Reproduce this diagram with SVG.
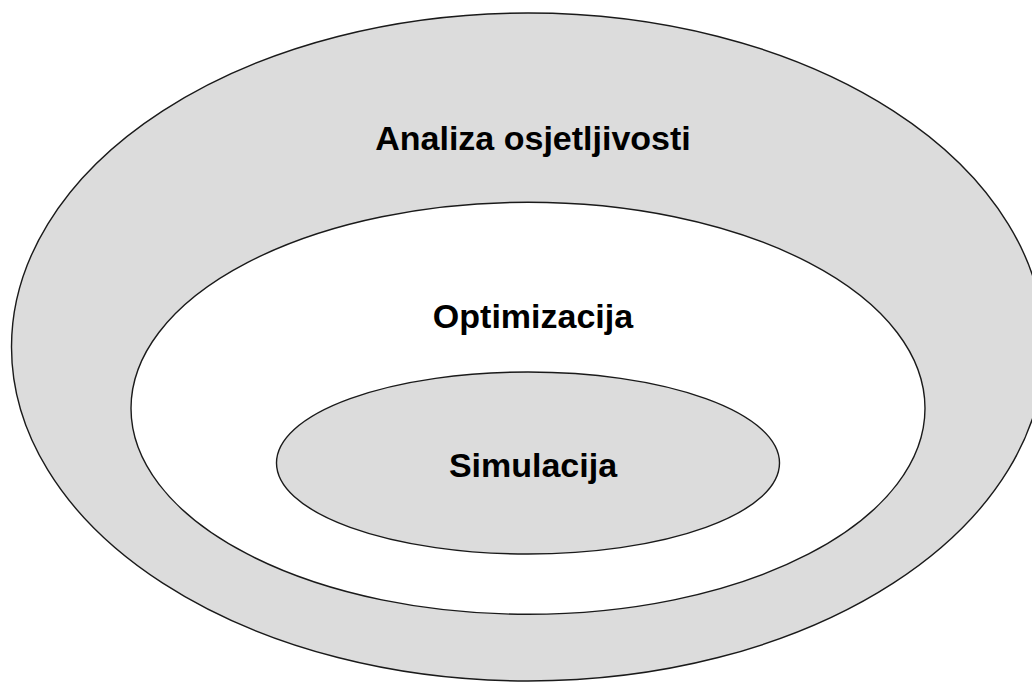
<svg xmlns="http://www.w3.org/2000/svg" width="1032" height="682" viewBox="0 0 1032 682">
<style>
.ring{stroke:#1a1a1a;stroke-width:1.4}
.gray{fill:#dcdcdc}
.white{fill:#ffffff}
.lbl{font-family:"Liberation Sans",Arial,sans-serif;font-weight:bold;font-size:34px;fill:#000;text-anchor:middle}
</style>
<rect width="1032" height="682" fill="#ffffff"/>
<g id="analiza">
<ellipse class="ring gray" cx="528" cy="347" rx="516.5" ry="334"/>
<text class="lbl" x="533" y="150">Analiza osjetljivosti</text>
</g>
<g id="optimizacija">
<ellipse class="ring white" cx="528" cy="408.3" rx="397" ry="206"/>
<text class="lbl" x="533" y="328">Optimizacija</text>
</g>
<g id="simulacija">
<ellipse class="ring gray" cx="528" cy="463" rx="251.5" ry="91"/>
<text class="lbl" x="533" y="477">Simulacija</text>
</g>
<g id="connectors"/>
</svg>
